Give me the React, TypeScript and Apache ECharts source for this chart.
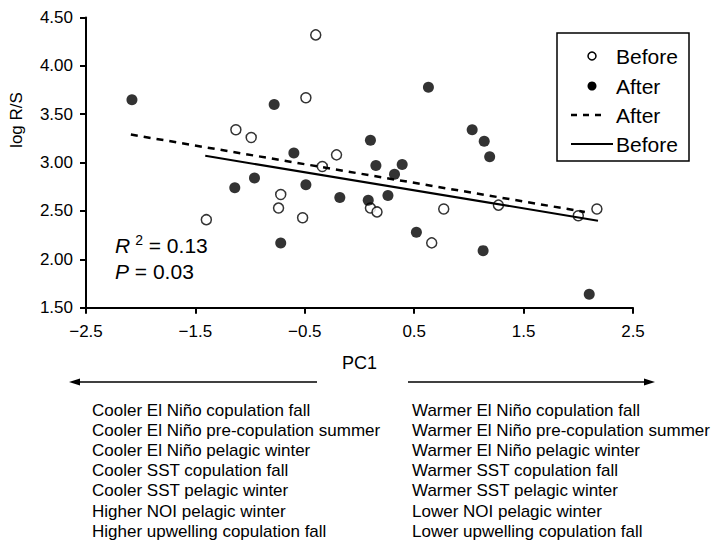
import React, { useEffect, useRef } from 'react';
import * as echarts from 'echarts';

// Open circles: "Before"
const beforePC1 = [-1.40, -1.13, -0.99, -0.74, -0.72, -0.52, -0.49, -0.40, -0.34, -0.21, 0.10, 0.16, 0.66, 0.77, 1.27, 2.00, 2.17];
const beforeLogRS = [2.41, 3.34, 3.26, 2.53, 2.67, 2.43, 3.67, 4.32, 2.96, 3.08, 2.53, 2.49, 2.17, 2.52, 2.56, 2.45, 2.52];

// Filled circles: "After"
const afterPC1 = [-2.08, -1.14, -0.96, -0.78, -0.72, -0.60, -0.49, -0.18, 0.08, 0.10, 0.15, 0.26, 0.32, 0.39, 0.52, 0.63, 1.03, 1.13, 1.14, 1.19, 2.10];
const afterLogRS = [3.65, 2.74, 2.84, 3.60, 2.17, 3.10, 2.77, 2.64, 2.61, 3.23, 2.97, 2.66, 2.88, 2.98, 2.28, 3.78, 3.34, 2.09, 3.22, 3.06, 1.64];

// Regression lines (end points)
const afterFitPC1 = [-2.09, 2.06];
const afterFitLogRS = [3.29, 2.49];
const beforeFitPC1 = [-1.41, 2.18];
const beforeFitLogRS = [3.07, 2.40];

const xTickValues = [-2.5, -1.5, -0.5, 0.5, 1.5, 2.5];
const legendLabels = ['Before', 'After', 'After', 'Before'];
const rSquared = '0.13';
const pValue = '0.03';

const coolerLabels = [
  'Cooler El Niño copulation fall',
  'Cooler El Niño pre-copulation summer',
  'Cooler El Niño pelagic winter',
  'Cooler SST copulation fall',
  'Cooler SST pelagic winter',
  'Higher NOI pelagic winter',
  'Higher upwelling copulation fall',
];
const warmerLabels = [
  'Warmer El Niño copulation fall',
  'Warmer El Niño pre-copulation summer',
  'Warmer El Niño pelagic winter',
  'Warmer SST copulation fall',
  'Warmer SST pelagic winter',
  'Lower NOI pelagic winter',
  'Lower upwelling copulation fall',
];

const FONT = '"Liberation Sans", Arial, Helvetica, sans-serif';

const zip = (xs: number[], ys: number[]) => xs.map((x, i) => [x, ys[i]]);

export default function App() {
  const ref = useRef<HTMLDivElement>(null);

  useEffect(() => {
    if (!ref.current) return;
    const chart = echarts.init(ref.current, null, { renderer: 'svg' });

    const legendX = 557;
    const legendY = 33;
    const rowY = [56, 86, 115, 144];

    const option: any = {
      animation: false,
      backgroundColor: '#fff',
      textStyle: { fontFamily: FONT, color: '#000' },
      grid: { left: 86, right: 83, top: 17.5, bottom: 232.3, containLabel: false },
      xAxis: {
        type: 'value',
        min: -2.5,
        max: 2.5,
        name: 'PC1',
        nameLocation: 'middle',
        nameGap: 46,
        nameTextStyle: { fontSize: 18, color: '#000', fontFamily: FONT },
        axisLine: { show: true, onZero: false, lineStyle: { color: '#000', width: 2 } },
        axisTick: { show: true, customValues: xTickValues, length: 6, lineStyle: { color: '#000', width: 2 } },
        axisLabel: {
          customValues: xTickValues,
          fontSize: 17,
          color: '#000',
          fontFamily: FONT,
          margin: 15,
          formatter: (v: number) => (v < 0 ? '\u2212' + Math.abs(v).toFixed(1) : v.toFixed(1)),
        },
        splitLine: { show: false },
      },
      yAxis: {
        type: 'value',
        min: 1.5,
        max: 4.5,
        interval: 0.5,
        axisLine: { show: true, onZero: false, lineStyle: { color: '#000', width: 2 } },
        axisTick: { show: true, length: 6, lineStyle: { color: '#000', width: 2 } },
        axisLabel: {
          fontSize: 17,
          color: '#000',
          fontFamily: FONT,
          margin: 13,
          formatter: (v: number) => v.toFixed(2),
        },
        splitLine: { show: false },
      },
      series: [
        {
          name: 'Before',
          type: 'scatter',
          data: zip(beforePC1, beforeLogRS),
          symbol: 'circle',
          symbolSize: 10,
          itemStyle: { color: '#fff', borderColor: '#000', borderWidth: 1.5 },
          emphasis: { disabled: true },
          z: 2,
        },
        {
          name: 'After',
          type: 'scatter',
          data: zip(afterPC1, afterLogRS),
          symbol: 'circle',
          symbolSize: 11,
          itemStyle: { color: '#000' },
          emphasis: { disabled: true },
          z: 3,
        },
        {
          name: 'After fit',
          type: 'line',
          data: zip(afterFitPC1, afterFitLogRS),
          symbol: 'none',
          lineStyle: { color: '#000', width: 2.5, type: [7, 6] },
          emphasis: { disabled: true },
          z: 4,
        },
        {
          name: 'Before fit',
          type: 'line',
          data: zip(beforeFitPC1, beforeFitLogRS),
          symbol: 'none',
          lineStyle: { color: '#000', width: 2 },
          emphasis: { disabled: true },
          z: 4,
        },
      ],
      graphic: [
        {
          type: 'text',
          x: 16,
          y: 120,
          rotation: Math.PI / 2,
          style: { text: 'log R/S', fontSize: 17, fontFamily: FONT, fill: '#000', align: 'center', verticalAlign: 'middle' },
        },
        {
          type: 'text',
          x: 115,
          y: 245,
          style: {
            text: '{i|R}{s|2}{n| = ' + rSquared + '}',
            verticalAlign: 'middle',
            rich: {
              i: { fontSize: 21, fontStyle: 'italic', fontFamily: FONT, fill: '#000', lineHeight: 24 },
              s: { fontSize: 14, fontFamily: FONT, fill: '#000', verticalAlign: 'top', padding: [0, 0, 0, 5], lineHeight: 24 },
              n: { fontSize: 21, fontFamily: FONT, fill: '#000', lineHeight: 24 },
            },
          },
        },
        {
          type: 'text',
          x: 115,
          y: 271,
          style: {
            text: '{i|P}{n| = ' + pValue + '}',
            verticalAlign: 'middle',
            rich: {
              i: { fontSize: 21, fontStyle: 'italic', fontFamily: FONT, fill: '#000' },
              n: { fontSize: 21, fontFamily: FONT, fill: '#000' },
            },
          },
        },
        // Legend
        {
          type: 'rect',
          shape: { x: legendX, y: legendY, width: 132, height: 128 },
          style: { fill: '#fff', stroke: '#000', lineWidth: 1.5 },
          z: 10,
        },
        {
          type: 'circle',
          shape: { cx: 592, cy: rowY[0], r: 4 },
          style: { fill: '#fff', stroke: '#000', lineWidth: 1.5 },
          z: 11,
        },
        {
          type: 'circle',
          shape: { cx: 592, cy: rowY[1], r: 4.5 },
          style: { fill: '#000' },
          z: 11,
        },
        {
          type: 'line',
          shape: { x1: 571, y1: rowY[2], x2: 607, y2: rowY[2] },
          style: { stroke: '#000', lineWidth: 2.5, lineDash: [6, 6] },
          z: 11,
        },
        {
          type: 'line',
          shape: { x1: 571, y1: rowY[3], x2: 613, y2: rowY[3] },
          style: { stroke: '#000', lineWidth: 2 },
          z: 11,
        },
        ...legendLabels.map((t, i) => ({
          type: 'text',
          x: 616,
          y: rowY[i],
          z: 11,
          style: { text: t, fontSize: 21, fontFamily: FONT, fill: '#000', verticalAlign: 'middle' },
        })),
        // Arrows
        {
          type: 'line',
          shape: { x1: 76, y1: 382, x2: 317, y2: 382 },
          style: { stroke: '#000', lineWidth: 1.5 },
        },
        {
          type: 'polygon',
          shape: { points: [[69, 382], [80, 378.5], [80, 385.5]] },
          style: { fill: '#000' },
        },
        {
          type: 'line',
          shape: { x1: 408, y1: 382, x2: 648, y2: 382 },
          style: { stroke: '#000', lineWidth: 1.5 },
        },
        {
          type: 'polygon',
          shape: { points: [[655, 382], [644, 378.5], [644, 385.5]] },
          style: { fill: '#000' },
        },
        // Bottom descriptor columns
        {
          type: 'text',
          x: 92,
          y: 400,
          style: { text: coolerLabels.join('\n'), fontSize: 17, lineHeight: 20.2, fontFamily: FONT, fill: '#000', verticalAlign: 'top' },
        },
        {
          type: 'text',
          x: 412,
          y: 400,
          style: { text: warmerLabels.join('\n'), fontSize: 17, lineHeight: 20.2, fontFamily: FONT, fill: '#000', verticalAlign: 'top' },
        },
      ],
    };

    chart.setOption(option);
    return () => chart.dispose();
  }, []);

  return <div ref={ref} style={{ position: 'fixed', left: 0, top: 0, width: 716, height: 540, background: '#fff' }} />;
}
